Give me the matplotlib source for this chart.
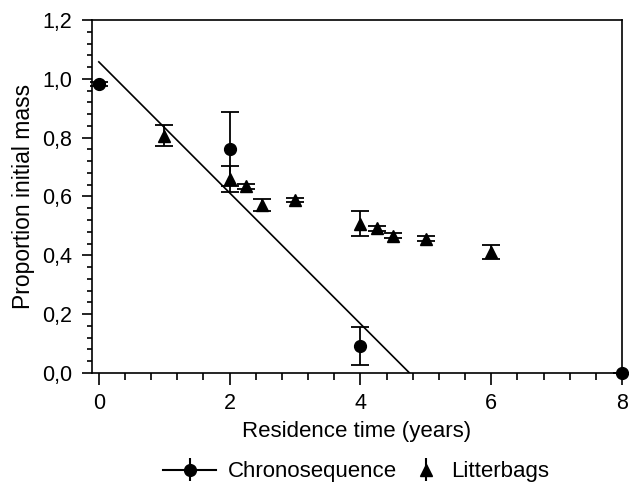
import matplotlib.pyplot as plt
import numpy as np
from matplotlib.ticker import MultipleLocator, FuncFormatter

plt.rcParams['font.family'] = ['Liberation Sans', 'DejaVu Sans']

# Chronosequence data
chrono_x = [0, 2, 4, 8]
chrono_y = [0.983, 0.762, 0.092, 0.0]
chrono_err = [0.008, 0.125, 0.064, 0.0]

# Litterbag data
bag_x = [1, 2, 2.25, 2.5, 3, 4, 4.25, 4.5, 5, 6]
bag_y = [0.807, 0.659, 0.634, 0.572, 0.588, 0.508, 0.492, 0.467, 0.456, 0.411]
bag_err = [0.036, 0.045, 0.008, 0.02, 0.008, 0.041, 0.008, 0.008, 0.008, 0.024]

# regression on first three chronosequence points
slope, intercept = np.polyfit(chrono_x[:3], chrono_y[:3], 1)
x_zero = -intercept / slope
line_x = np.array([0, x_zero])
line_y = slope * line_x + intercept

fig = plt.figure(figsize=(6.29, 4.90), dpi=100)
ax = fig.add_axes([0.146, 0.239, 0.843, 0.72])

ax.plot(line_x, line_y, color='black', linewidth=1.2)
ax.errorbar(chrono_x, chrono_y, yerr=chrono_err, fmt='o', color='black',
            markersize=8.5, capsize=6.5, elinewidth=1.3, capthick=1.3, clip_on=False, zorder=3)
ax.errorbar(bag_x, bag_y, yerr=bag_err, fmt='^', color='black',
            markersize=9, capsize=6.5, elinewidth=1.3, capthick=1.3, clip_on=False, zorder=3)

ax.set_xlim(-0.107, 8)
ax.set_ylim(0, 1.2)
ax.xaxis.set_major_locator(MultipleLocator(2))
ax.xaxis.set_minor_locator(MultipleLocator(0.4))
ax.yaxis.set_major_locator(MultipleLocator(0.2))
ax.yaxis.set_minor_locator(MultipleLocator(0.04))
ax.xaxis.set_major_formatter(FuncFormatter(lambda v, p: f"{v:.0f}"))
ax.yaxis.set_major_formatter(FuncFormatter(lambda v, p: f"{v:.1f}".replace('.', ',')))
ax.tick_params(which='both', direction='out', width=1.2, labelsize=15.5)
ax.tick_params(axis='x', which='major', length=8.6, pad=5.8)
ax.tick_params(axis='x', which='minor', length=5)
ax.tick_params(axis='y', which='major', length=7.2, pad=7)
ax.tick_params(axis='y', which='minor', length=3.6)
for s in ax.spines.values():
    s.set_linewidth(1.2)

ax.set_xlabel("Residence time (years)", fontsize=16, labelpad=5)
ax.set_ylabel("Proportion initial mass", fontsize=16.5, labelpad=5)

# legend handles
h1 = ax.errorbar([], [], yerr=[], fmt='-o', color='black', markersize=8.5, capsize=6.5)
h2 = ax.errorbar([], [], yerr=[], fmt='^', color='black', markersize=9, capsize=6.5)
fig.legend([h1], ["Chronosequence"], loc='center left', bbox_to_anchor=(163 / 629, 0.037),
           frameon=False, fontsize=16, handlelength=2.39, handletextpad=0.54,
           borderpad=0, borderaxespad=0)
fig.legend([h2], ["Litterbags"], loc='center left', bbox_to_anchor=(415 / 629, 0.037),
           frameon=False, fontsize=16, handlelength=1.0, handletextpad=0.63,
           borderpad=0, borderaxespad=0)

fig.savefig("out.png", dpi=100)
